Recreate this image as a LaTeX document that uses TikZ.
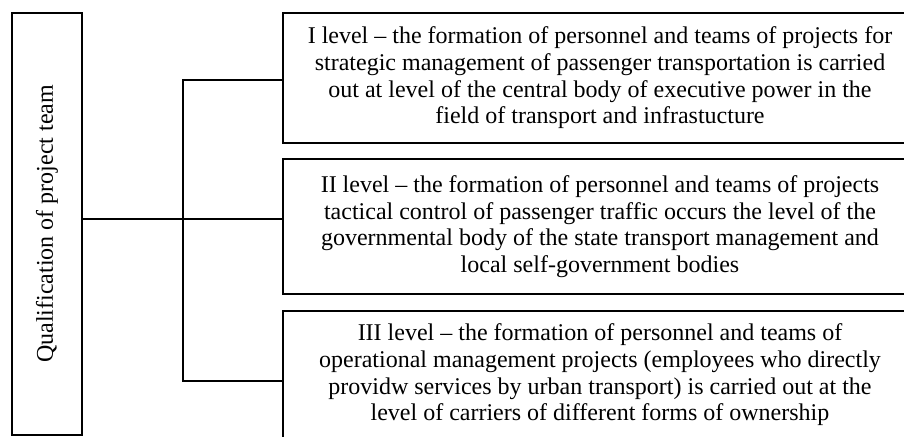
\documentclass[tikz,border=0pt]{standalone}
\usepackage{fontspec}
\setmainfont{Liberation Serif}
\begin{document}
\begin{tikzpicture}[x=1pt,y=-1pt,
  frame/.style={draw,line width=1.5pt,rectangle,inner sep=0pt},
  levelbox/.style={frame,minimum width=634pt,align=center,
    font=\fontsize{24}{26.7}\selectfont},
  link/.style={line width=1.5pt}]
\clip (0,0) rectangle (904,436);
\fill[white] (0,0) rectangle (904,436);

% left header box with rotated title
\node[frame,minimum width=70pt,minimum height=422pt] (q) at (47,224) {};
\node[rotate=90,font=\fontsize{24}{26.7}\selectfont] (qt) at (q.center) {Qualification of project team};

% the three levels
\node[levelbox,minimum height=130pt] (l1) at (600,78)
  {I level – the formation of personnel and teams of projects for\\
   strategic management of passenger transportation is carried\\
   out at level of the central body of executive power in the\\
   field of transport and infrastucture};
\node[levelbox,minimum height=135pt] (l2) at (600,226.5)
  {II level – the formation of personnel and teams of projects\\
   tactical control of passenger traffic occurs the level of the\\
   governmental body of the state transport management and\\
   local self-government bodies};
\node[levelbox,minimum height=128pt] (l3) at (600,375)
  {III level – the formation of personnel and teams of\\
   operational management projects (employees who directly\\
   providw services by urban transport) is carried out at the\\
   level of carriers of different forms of ownership};

% connectors
\coordinate (bus) at (183,219);
\coordinate (top) at (183,80);
\coordinate (bot) at (183,381);
\draw[link] (q.east |- bus) -- (bus) -- (l2.west |- bus);
\draw[link] (l1.west |- top) -- (top) -- (bot) -- (l3.west |- bot);
\end{tikzpicture}
\end{document}
